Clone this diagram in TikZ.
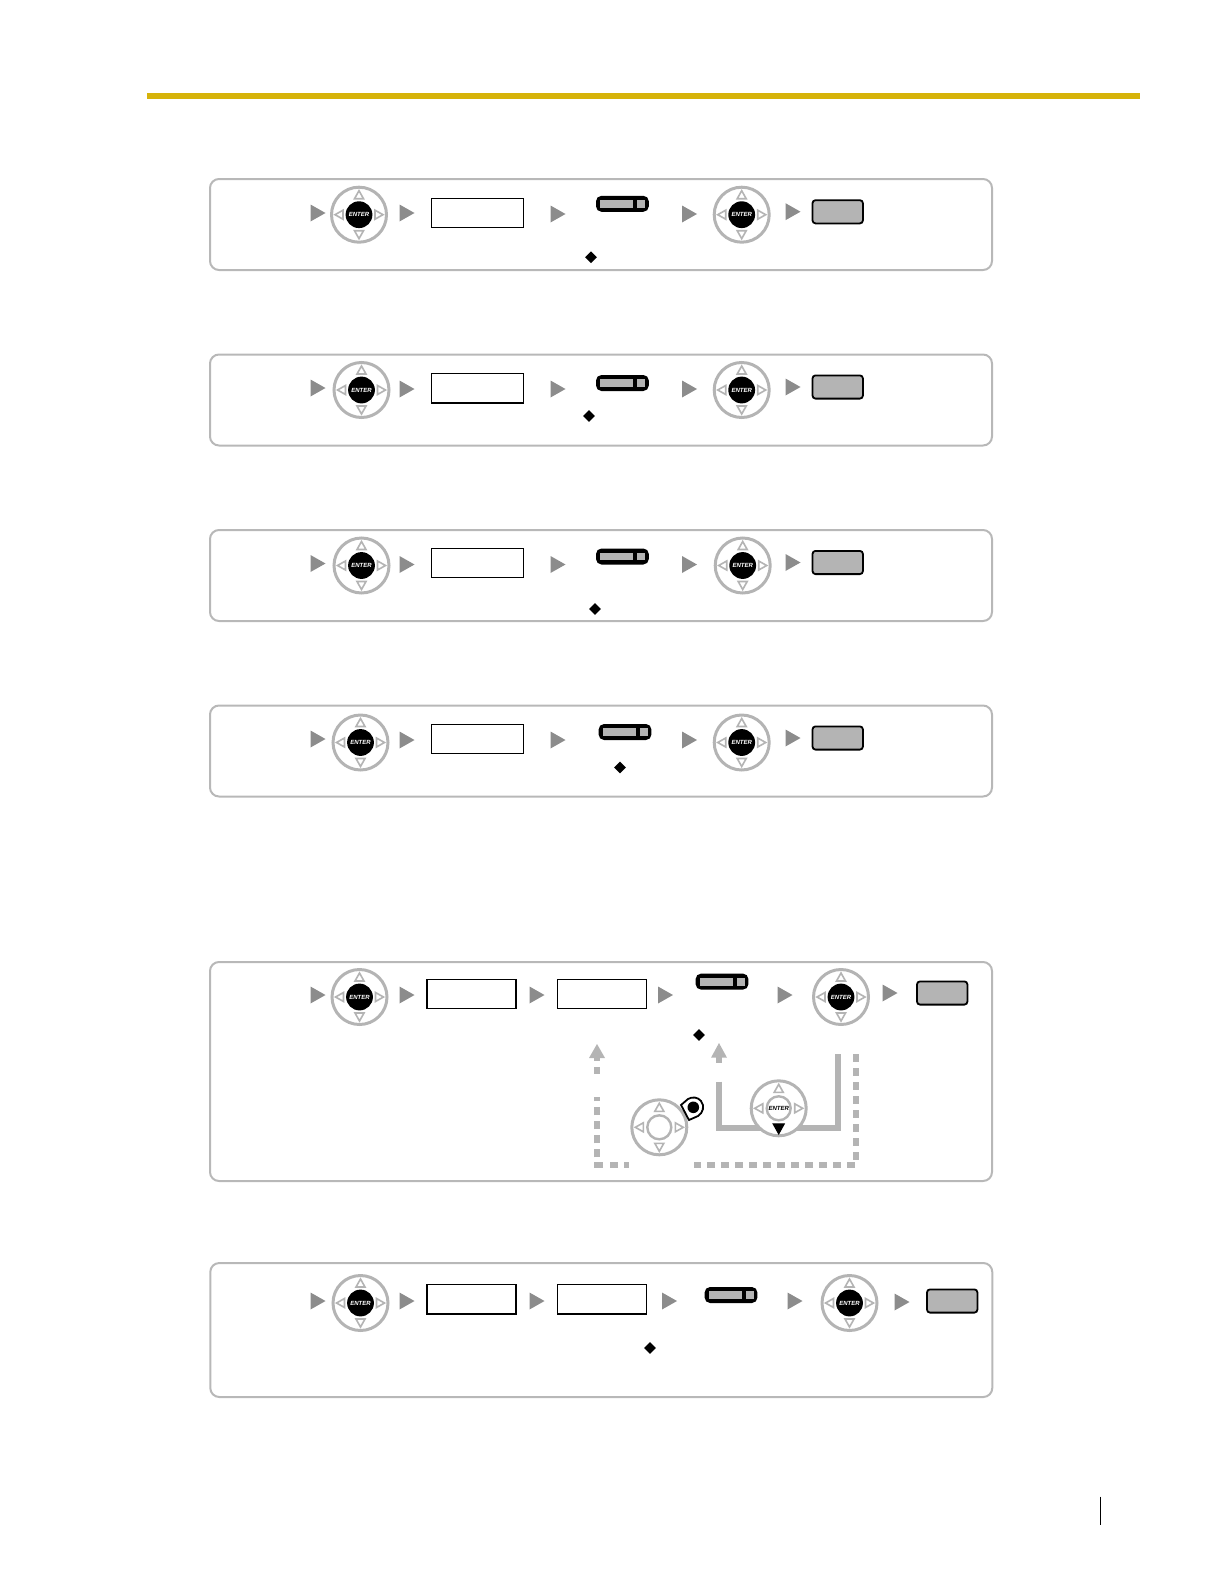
\documentclass[tikz,border=0pt]{standalone}
\usepackage{fontspec}
\setsansfont{Liberation Sans}
\usetikzlibrary{arrows.meta, positioning, shapes.geometric, calc}
\definecolor{cgold}{HTML}{D6B30A}
\definecolor{cstep}{HTML}{8C8C8C}
\definecolor{cring}{HTML}{B4B4B4}
\definecolor{cpanel}{HTML}{B8B8B8}
\tikzset{
  every picture/.style={font=\sffamily, x=0.5pt, y=-0.5pt},
  panel/.style={draw=cpanel, line width=1pt, rounded corners=4.5pt, minimum width=391pt, inner sep=0pt},
  entrybox/.style={draw=black, fill=white, line width=0.6pt, minimum width=46pt, minimum height=14.6pt, inner sep=0pt},
  softkey/.style={draw=black, fill=black, line width=0.8pt, rounded corners=2.4pt, minimum width=25.6pt, minimum height=7.2pt, inner sep=0pt},
  softbar/.style={fill=cring, minimum width=16.5pt, minimum height=3.9pt, inner sep=0pt},
  softtab/.style={fill=cring, minimum width=4pt, minimum height=3.9pt, inner sep=0pt},
  okbutton/.style={draw=black, fill=cring, line width=0.9pt, rounded corners=1.5pt, minimum width=25.2pt, minimum height=11.6pt, inner sep=0pt},
  marker/.style={diamond, fill=black, minimum size=6pt, inner sep=0pt},
  dialring/.style={circle, draw=cring, fill=white, line width=1.5pt, minimum size=27.5pt, inner sep=0pt},
  dialhub/.style={circle, fill=black, text=white, minimum size=13.4pt, inner sep=0pt, font=\fontsize{3}{3.6}\selectfont\sffamily\bfseries\itshape},
  dialopen/.style={dialhub, draw=cring, line width=1.2pt, fill=white, text=black, minimum size=12pt},
  dialtri/.style={draw=cring, line width=0.8pt},
  stepmark/.style={fill=cstep},
  loopdash/.style={draw=cring, line width=3pt, dash pattern=on 4pt off 3pt},
  loopline/.style={draw=cring, line width=3pt},
  loophead/.style={fill=cring},
}
\newcommand{\steptri}[2]{\fill[stepmark] (#1-7.5,#2-8.5) -- (#1+7.5,#2) -- (#1-7.5,#2+8.5) -- cycle;}
\newcommand{\dialring}[3]{
  \node[dialring] (#1) at (#2,#3) {};
  \begin{scope}[shift={(#2,#3)}]
    \foreach \a in {0,90,180,270} \draw[dialtri, rotate=\a] (24,0) -- (16,-4.5) -- (16,4.5) -- cycle;
  \end{scope}
}
\newcommand{\enterdial}[3]{
  \dialring{#1}{#2}{#3}
  \node[dialhub] (#1hub) at (#2,#3) {ENTER};
}
\newcommand{\softkeyat}[3]{
  \node[softkey] (#1) at (#2,#3) {};
  \node[softbar] (#1bar) at (#2-6,#3) {};
  \node[softtab] (#1tab) at (#2+18.5,#3) {};
}
\begin{document}
\begin{tikzpicture}
  \useasboundingbox (0,0) rectangle (1224,1584);
  % top rule and page mark
  \fill[cgold] (146.5,93) rectangle (1140,99);
  \draw[black, line width=0.6pt] (1100.3,1496.7) -- (1100.3,1525);

  % panels
  \node[panel, minimum height=45.5pt] (panelA) at (601,224.5) {};
  \node[panel, minimum height=45.5pt] (panelB) at (601,400) {};
  \node[panel, minimum height=45.5pt] (panelC) at (601,575.5) {};
  \node[panel, minimum height=45.5pt] (panelD) at (601,751) {};
  \node[panel, minimum height=109.5pt] (panelE) at (601,1071.5) {};
  \node[panel, minimum height=67pt] (panelF) at (601.3,1330) {};

  % first row
  \steptri{318}{213}
  \enterdial{dialA}{359}{214.7}
  \steptri{407}{213}
  \node[entrybox] (boxA) at (477.7,212.8) {};
  \steptri{558}{214}
  \softkeyat{softA}{622.4}{203.8}
  \node[marker] (markA) at (591,257.3) {};
  \steptri{689.5}{214}
  \enterdial{dialAb}{741.7}{214.7}
  \steptri{793}{211.7}
  \node[okbutton] (okA) at (837.7,211.8) {};

  % second row
  \steptri{318}{388}
  \enterdial{dialB}{361.5}{390}
  \steptri{407}{389}
  \node[entrybox] (boxB) at (477.7,388.3) {};
  \steptri{558}{389}
  \softkeyat{softB}{622.4}{383}
  \node[marker] (markB) at (589,416) {};
  \steptri{689.5}{389}
  \enterdial{dialBb}{741.7}{390}
  \steptri{793}{387}
  \node[okbutton] (okB) at (837.7,387) {};

  % third row
  \steptri{318}{563.5}
  \enterdial{dialC}{361.5}{565.5}
  \steptri{407}{564.5}
  \node[entrybox] (boxC) at (477.7,563) {};
  \steptri{558}{564.5}
  \softkeyat{softC}{622.4}{556.5}
  \node[marker] (markC) at (595,609) {};
  \steptri{689.5}{564.5}
  \enterdial{dialCb}{742.7}{565.5}
  \steptri{793}{562.5}
  \node[okbutton] (okC) at (837.7,562.5) {};

  % fourth row
  \steptri{318}{739}
  \enterdial{dialD}{360.5}{742.5}
  \steptri{407}{740}
  \node[entrybox] (boxD) at (477.7,738.7) {};
  \steptri{558}{740}
  \softkeyat{softD}{625}{732}
  \node[marker] (markD) at (620,767.5) {};
  \steptri{689.5}{740}
  \enterdial{dialDb}{741.7}{742.5}
  \steptri{793}{738}
  \node[okbutton] (okD) at (837.7,738) {};

  % fifth row
  \steptri{318}{995}
  \enterdial{dialE}{359.5}{997}
  \steptri{407}{995}
  \node[entrybox, minimum width=44.5pt] (boxE) at (471.5,993.8) {};
  \steptri{537}{995}
  \node[entrybox, minimum width=44.5pt] (boxEb) at (602,993.8) {};
  \steptri{665.5}{995}
  \softkeyat{softE}{722}{981.6}
  \node[marker] (markE) at (699,1035) {};
  \steptri{785}{995}
  \enterdial{dialEb}{841}{997}
  \steptri{890}{993}
  \node[okbutton] (okE) at (942.2,993) {};

  % loop under the fifth row
  \draw[loopdash] (856,1054) -- (856,1165) -- (694,1165);
  \draw[loopdash, dash phase=1.6pt] (629,1165) -- (606,1165);
  \draw[loopline] (603,1165) -- (594,1165);
  \draw[loopdash] (597,1157.3) -- (597,1097);
  \draw[loopline] (597,1073.5) -- (597,1066.5);
  \draw[loopline] (597,1061) -- (597,1056);
  \fill[loophead] (597,1044) -- (605,1058) -- (589,1058) -- cycle;
  \draw[loopline] (719,1081.7) -- (719,1127.7) -- (838.3,1127.7) -- (838.3,1054);
  \draw[loopline] (719,1062.7) -- (719,1056);
  \fill[loophead] (719,1043) -- (727,1057.7) -- (711,1057.7) -- cycle;
  \dialring{dialLoop}{659.3}{1127.3}
  \node[dialopen] (dialLoophub) at (659.3,1127.3) {};
  \filldraw[fill=white, draw=black, line width=0.9pt] (681,1105) -- (688,1099) .. controls (692,1096.5) and (698,1097) .. (701,1101)
    .. controls (705,1106) and (703,1113) .. (698,1116) -- (689,1120) .. controls (686,1115) and (684,1110) .. cycle;
  \node[circle, fill=black, minimum size=5.8pt, inner sep=0pt] (lamp) at (693.3,1107.3) {};
  \dialring{dialDown}{778.7}{1108.3}
  \node[dialopen] (dialDownhub) at (778.7,1108.3) {ENTER};
  \fill[black] (772.2,1123.3) -- (785.2,1123.3) -- (778.7,1135) -- cycle;

  % sixth row
  \steptri{318}{1301}
  \enterdial{dialF}{360.5}{1303}
  \steptri{407}{1301}
  \node[entrybox, minimum width=44.5pt] (boxF) at (471.5,1299.3) {};
  \steptri{537}{1301}
  \node[entrybox, minimum width=44.5pt] (boxFb) at (602,1299.3) {};
  \steptri{669.5}{1301}
  \softkeyat{softF}{731}{1295}
  \node[marker] (markF) at (650,1348) {};
  \steptri{795}{1301}
  \enterdial{dialFb}{849.5}{1303}
  \steptri{902}{1302}
  \node[okbutton] (okF) at (952.2,1301) {};
\end{tikzpicture}
\end{document}
